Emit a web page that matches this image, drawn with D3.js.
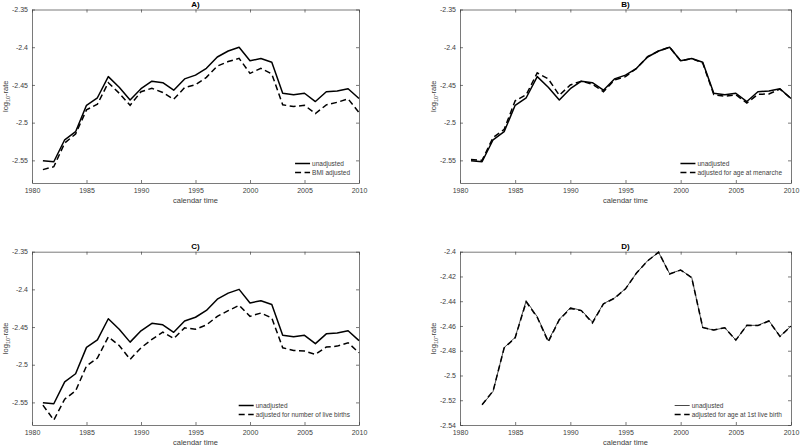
<!DOCTYPE html>
<html><head><meta charset="utf-8">
<script src="https://cdn.jsdelivr.net/npm/d3@7"></script>
<style>body{margin:0;background:#fff}svg{display:block}text{font-family:"Liberation Sans",Arial,sans-serif}</style>
</head><body><svg id="c" width="800" height="447"></svg>
<script>
const yearsABC = d3.range(1981, 2011);
const yearsD = d3.range(1982, 2011);
const unadjusted = [-2.5504,-2.5518,-2.5227,-2.512,-2.477,-2.467,-2.439,-2.453,-2.470,-2.455,-2.445,-2.447,-2.457,-2.442,-2.437,-2.428,-2.413,-2.405,-2.400,-2.418,-2.415,-2.420,-2.461,-2.463,-2.461,-2.472,-2.459,-2.458,-2.455,-2.468];
const bmiAdjusted = [-2.5623,-2.5584,-2.527,-2.515,-2.483,-2.4756,-2.447,-2.461,-2.477,-2.459,-2.4544,-2.460,-2.469,-2.4535,-2.4496,-2.440,-2.425,-2.419,-2.4148,-2.4346,-2.428,-2.4355,-2.4764,-2.4786,-2.477,-2.488,-2.4764,-2.473,-2.4685,-2.4866];
const menarcheAdjusted = [-2.549,-2.550,-2.5196,-2.509,-2.471,-2.463,-2.434,-2.442,-2.4636,-2.450,-2.445,-2.449,-2.459,-2.4435,-2.439,-2.428,-2.4126,-2.405,-2.400,-2.418,-2.415,-2.421,-2.4628,-2.465,-2.463,-2.474,-2.4625,-2.462,-2.4555,-2.468];
const birthsAdjusted = [-2.5536,-2.5734,-2.5457,-2.5347,-2.5017,-2.4912,-2.463,-2.4745,-2.4929,-2.4775,-2.4665,-2.4568,-2.4652,-2.4511,-2.4529,-2.4472,-2.4358,-2.4283,-2.4212,-2.4358,-2.4314,-2.438,-2.4775,-2.481,-2.4819,-2.4863,-2.4766,-2.4753,-2.4709,-2.4841];
const unadjustedD = [-2.5239,-2.5128,-2.4775,-2.4692,-2.4396,-2.4525,-2.4719,-2.4547,-2.4452,-2.4474,-2.4568,-2.442,-2.4374,-2.4299,-2.4172,-2.4073,-2.4005,-2.4178,-2.4148,-2.4207,-2.4614,-2.4633,-2.4614,-2.4714,-2.4595,-2.4595,-2.4557,-2.4684,-2.460];
const firstBirthAdjusted = [-2.5236,-2.5125,-2.4778,-2.4695,-2.4405,-2.453,-2.4728,-2.455,-2.4458,-2.4476,-2.4575,-2.4422,-2.4376,-2.430,-2.4172,-2.4075,-2.4003,-2.4180,-2.4148,-2.4210,-2.4612,-2.4633,-2.4614,-2.4714,-2.4595,-2.4597,-2.4560,-2.4684,-2.4603];
const xTicks = [1980,1985,1990,1995,2000,2005,2010];
const yTicksABC = [-2.55,-2.5,-2.45,-2.4,-2.35];
const yTicksD = [-2.54,-2.52,-2.5,-2.48,-2.46,-2.44,-2.42,-2.4];

const panels = [
 {title:"A)", x0:32, x1:359, y0:9.5, y1:183, ydom:[-2.58,-2.35], yt:yTicksABC, years:yearsABC, u:unadjusted, a:bmiAdjusted, label:"BMI adjusted", thinU:false},
 {title:"B)", x0:460, x1:791, y0:9.5, y1:183, ydom:[-2.58,-2.35], yt:yTicksABC, years:yearsABC, u:unadjusted, a:menarcheAdjusted, label:"adjusted for age at menarche", thinU:false},
 {title:"C)", x0:32, x1:359, y0:251.7, y1:425, ydom:[-2.58,-2.35], yt:yTicksABC, years:yearsABC, u:unadjusted, a:birthsAdjusted, label:"adjusted for number of live births", thinU:false},
 {title:"D)", x0:460, x1:791, y0:251.7, y1:425, ydom:[-2.54,-2.40], yt:yTicksD, years:yearsD, u:unadjustedD, a:firstBirthAdjusted, label:"adjusted for age at 1st live birth", thinU:true}
];
const svg = d3.select("#c");
const axCol = "#404040";
panels.forEach(p=>{
  const g = svg.append("g");
  const x = d3.scaleLinear().domain([1980,2010]).range([p.x0,p.x1]);
  const y = d3.scaleLinear().domain(p.ydom).range([p.y1,p.y0]);
  const fmt = v => String(+v.toFixed(2));
  const ab = g.append("g").attr("transform",`translate(0,${p.y1})`).call(d3.axisBottom(x).tickValues(xTicks).tickSizeInner(-3).tickSizeOuter(0).tickPadding(5).tickFormat(d3.format("d")));
  const at = g.append("g").attr("transform",`translate(0,${p.y0})`).call(d3.axisTop(x).tickValues(xTicks).tickSizeInner(-3).tickSizeOuter(0).tickFormat(""));
  const al = g.append("g").attr("transform",`translate(${p.x0},0)`).call(d3.axisLeft(y).tickValues(p.yt).tickSizeInner(-3).tickSizeOuter(0).tickPadding(4).tickFormat(fmt));
  const ar = g.append("g").attr("transform",`translate(${p.x1},0)`).call(d3.axisRight(y).tickValues(p.yt).tickSizeInner(-3).tickSizeOuter(0).tickFormat(""));
  [ab,at,al,ar].forEach(a=>{
    a.selectAll("path").attr("stroke",axCol).attr("stroke-width",0.7);
    a.selectAll("line").attr("stroke",axCol).attr("stroke-width",0.7);
    a.selectAll("text").attr("fill",axCol).style("font-size","7px").attr("font-family",null);
  });
  g.append("text").attr("x",(p.x0+p.x1)/2).attr("y",p.y0-3).attr("text-anchor","middle").style("font-size","8px").style("font-weight","bold").attr("fill","#000").text(p.title);
  g.append("text").attr("x",(p.x0+p.x1)/2).attr("y",p.y1+20).attr("text-anchor","middle").style("font-size","7.5px").attr("fill",axCol).text("calendar time");
  const yl = g.append("text").attr("transform",`translate(${p.x0-24},${(p.y0+p.y1)/2}) rotate(-90)`).attr("text-anchor","middle").style("font-size","7.5px").attr("fill",axCol);
  yl.append("tspan").text("log");
  yl.append("tspan").attr("dy",2).style("font-size","5.5px").text("10");
  yl.append("tspan").attr("dy",-2).text("-rate");
  const line = vals => d3.line().x((d,i)=>x(p.years[i])).y(d=>y(d))(vals);
  g.append("path").attr("d",line(p.u)).attr("fill","none").attr("stroke",p.thinU?"#333":"#000").attr("stroke-width",p.thinU?0.9:1.5).attr("stroke-linejoin","round");
  g.append("path").attr("d",line(p.a)).attr("fill","none").attr("stroke","#000").attr("stroke-width",1.5).attr("stroke-dasharray","6,3.5");
  const lg = g.append("g");
  const r1 = p.y1-19.5, r2 = p.y1-10.5;
  lg.append("line").attr("x1",0).attr("x2",15).attr("y1",r1).attr("y2",r1).attr("stroke",p.thinU?"#333":"#000").attr("stroke-width",p.thinU?0.9:1.5);
  lg.append("line").attr("x1",0).attr("x2",15).attr("y1",r2).attr("y2",r2).attr("stroke","#000").attr("stroke-width",1.5).attr("stroke-dasharray","6,3.5");
  const t1 = lg.append("text").attr("x",17).attr("y",r1+2.3).style("font-size","6.5px").attr("fill",axCol).text("unadjusted");
  const t2 = lg.append("text").attr("x",17).attr("y",r2+2.3).style("font-size","6.5px").attr("fill",axCol).text(p.label);
  const w = 17 + Math.max(t1.node().getComputedTextLength(), t2.node().getComputedTextLength());
  lg.attr("transform",`translate(${p.x1-9-w},0)`);
});
</script></body></html>
